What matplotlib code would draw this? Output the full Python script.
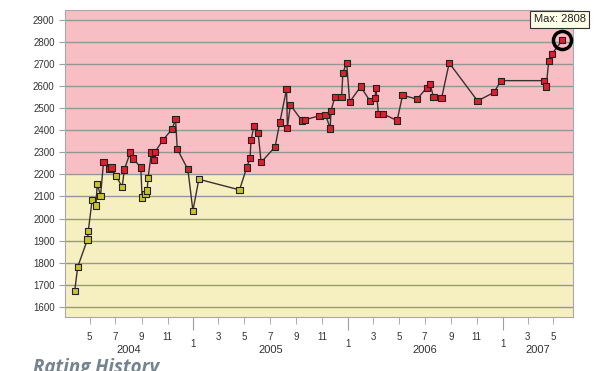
import numpy as np
import pandas as pd
import matplotlib
matplotlib.use("Agg")
import matplotlib.pyplot as plt
import matplotlib.dates as mdates
from matplotlib.transforms import blended_transform_factory

# rating history
dates = [
    "2004-03-27", "2004-04-03", "2004-04-26", "2004-04-28", "2004-05-07", "2004-05-16",
    "2004-05-19", "2004-05-27", "2004-06-03", "2004-06-17", "2004-06-22", "2004-07-03",
    "2004-07-17", "2004-07-22", "2004-08-05", "2004-08-12", "2004-08-30", "2004-09-02",
    "2004-09-10", "2004-09-14", "2004-09-16", "2004-09-24", "2004-09-30", "2004-10-03",
    "2004-10-21", "2004-11-12", "2004-11-20", "2004-11-24", "2004-12-19", "2004-12-31",
    "2005-01-14", "2005-04-20", "2005-05-07", "2005-05-15", "2005-05-17", "2005-05-24",
    "2005-06-03", "2005-06-10", "2005-07-13", "2005-07-24", "2005-08-09", "2005-08-11",
    "2005-08-18", "2005-09-14", "2005-09-22", "2005-10-26", "2005-11-09", "2005-11-20",
    "2005-11-22", "2005-12-01", "2005-12-17", "2005-12-20", "2005-12-29", "2006-01-05",
    "2006-01-31", "2006-02-22", "2006-03-06", "2006-03-08", "2006-03-14", "2006-03-24",
    "2006-04-27", "2006-05-10", "2006-06-13", "2006-07-06", "2006-07-14", "2006-07-22",
    "2006-08-10", "2006-08-28", "2006-11-03", "2006-12-12", "2006-12-28", "2007-04-08",
    "2007-04-14", "2007-04-20", "2007-04-27", "2007-05-22",
]
ratings = [
    1673, 1781, 1905, 1944, 2083, 2059,
    2157, 2104, 2258, 2224, 2231, 2192,
    2143, 2222, 2299, 2272, 2231, 2095,
    2110, 2127, 2183, 2299, 2267, 2303,
    2355, 2406, 2451, 2315, 2223, 2036,
    2178, 2130, 2231, 2276, 2355, 2418,
    2387, 2255, 2325, 2435, 2586, 2412,
    2515, 2444, 2448, 2466, 2471, 2408,
    2489, 2550, 2550, 2661, 2705, 2528,
    2598, 2533, 2547, 2593, 2475, 2475,
    2444, 2559, 2541, 2593, 2609, 2550,
    2545, 2705, 2533, 2572, 2625, 2625,
    2598, 2713, 2745, 2808,
]
threshold = 2200
years = [2004, 2005, 2006, 2007]

x = pd.to_datetime(dates)
y = np.array(ratings)

plt.rcParams['font.family'] = ['Liberation Sans', 'DejaVu Sans']

fig = plt.figure(figsize=(5.98, 3.71), dpi=100)
ax = fig.add_axes([0.1087, 0.1456, 0.8493, 0.8274])

x0 = pd.Timestamp("2004-03-04")
x1 = pd.Timestamp("2007-06-16")
ax.set_xlim(x0, x1)
ax.set_ylim(1554, 2945)

# background bands
ax.axhspan(threshold, 2945, color='#f7bfc4', zorder=0)
ax.axhspan(1554, threshold, color='#f6f0c0', zorder=0)
ax.set_yticks(np.arange(1600, 3000, 100))
ax.yaxis.grid(True, color='#969696', lw=1)
ax.set_axisbelow(True)

ax.plot(x, y, color='#3a3030', lw=1, zorder=2)
cols = np.where(y >= threshold, '#d9222e', '#c9c42c')
ax.scatter(x, y, marker='s', s=20, c=cols, edgecolors='#222222', linewidths=0.8, zorder=3)

# max highlight
imax = int(np.argmax(y))
ax.plot(x[imax], y[imax], marker='o', ms=13, mfc='none', mec='black', mew=2.5,
        zorder=4, clip_on=False)
ax.annotate("Max: %d" % y[imax], xy=(x[imax], y[imax]), xytext=(-2, 15),
            textcoords='offset points', ha='center', va='center', fontsize=8,
            color='#222222', annotation_clip=False,
            bbox=dict(boxstyle='square,pad=0.3', fc='#fffde6', ec='#333333', lw=0.8))

# axes styling
for s in ax.spines.values():
    s.set_color('#a8a8a8')
ax.tick_params(axis='y', colors='#a0a0a0', labelcolor='#333333', labelsize=7, length=4)

ax.xaxis.set_major_locator(mdates.MonthLocator(bymonth=[1]))
ax.xaxis.set_major_formatter(mdates.DateFormatter('%-m'))
ax.xaxis.set_minor_locator(mdates.MonthLocator(bymonth=[3, 5, 7, 9, 11]))
ax.xaxis.set_minor_formatter(mdates.DateFormatter('%-m'))
ax.tick_params(axis='x', which='major', length=9, pad=6.5, colors='#a0a0a0',
               labelcolor='#333333', labelsize=7)
ax.tick_params(axis='x', which='minor', length=5, pad=5.8, colors='#a0a0a0',
               labelcolor='#333333', labelsize=7)

# year labels centred on the visible part of each year
trans = blended_transform_factory(ax.transData, fig.transFigure)
for yr in years:
    a = max(pd.Timestamp(f"{yr}-01-01"), x0)
    b = min(pd.Timestamp(f"{yr + 1}-01-01"), x1)
    mid = a + (b - a) / 2
    ax.text(mid, 1 - 350 / 371, str(yr), transform=trans, ha='center', va='center',
            fontsize=8, color='#333333')

# title sits at the bottom edge, partly cut off as in the original
fig.text(33 / 598, 1 - 358 / 371, "Rating History", ha='left', va='top',
         fontsize=13.5, fontweight='bold', fontstyle='italic', color='#74838e',
         family=['Open Sans', 'DejaVu Sans'])

fig.savefig('out.png', dpi=100)
